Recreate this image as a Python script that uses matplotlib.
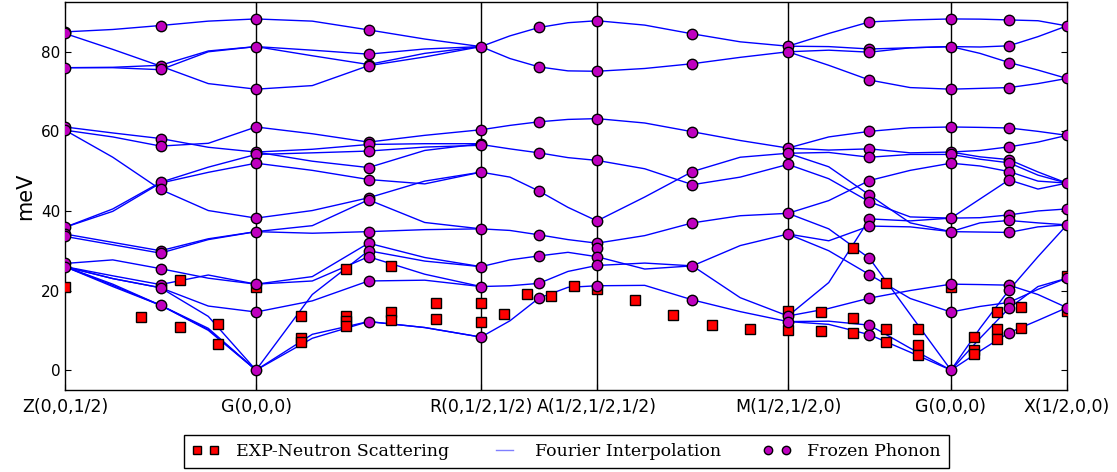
import numpy as np
import matplotlib
matplotlib.use("Agg")
import matplotlib.pyplot as plt
from matplotlib.lines import Line2D

# high-symmetry path (path length units)
k_labels = ["Z(0,0,1/2)", "G(0,0,0)", "R(0,1/2,1/2)", "A(1/2,1/2,1/2)",
            "M(1/2,1/2,0)", "G(0,0,0)", "X(1/2,0,0)"]
k_nodes = [0.0, 1.647, 3.586, 4.586, 6.233, 7.638, 8.638]

# Fourier interpolation bands (meV): one row per band,
# values read at 0, 1/4, 1/2, 3/4, 1 of each segment
band_frac = [0.0, 0.25, 0.5, 0.75, 1.0]
bands_ZG = [
    [85.0, 85.6, 86.6, 87.7, 88.25],
    [84.6, 80.6, 76.4, 72.0, 70.6],
    [76.0, 76.0, 75.5, 80.0, 81.3],
    [76.0, 76.1, 76.6, 80.2, 81.3],
    [61.1, 59.6, 58.2, 56.0, 54.8],
    [60.3, 58.6, 56.3, 57.0, 61.1],
    [60.3, 53.5, 45.4, 40.1, 38.2],
    [35.9, 40.5, 47.2, 51.0, 54.2],
    [35.9, 39.9, 47.0, 49.7, 52.0],
    [34.2, 32.1, 30.0, 33.0, 34.8],
    [33.6, 31.5, 29.4, 32.8, 34.8],
    [26.8, 27.7, 25.5, 23.1, 21.6],
    [26.0, 23.7, 21.5, 23.9, 21.6],
    [26.0, 23.0, 20.7, 16.1, 14.6],
    [26.0, 23.0, 20.7, 13.5, 0.0],
    [26.0, 21.6, 16.3, 10.5, 0.0],
    [26.0, 21.3, 16.3, 10.2, 0.0],
    [26.0, 21.0, 16.3, 10.0, 0.0],
]
bands_GR = [
    [88.25, 87.7, 85.5, 83.2, 81.3],
    [81.3, 80.4, 79.4, 80.7, 81.3],
    [81.3, 79.0, 76.8, 79.6, 81.3],
    [70.6, 71.5, 76.5, 78.7, 81.3],
    [61.1, 59.4, 57.3, 59.0, 60.4],
    [54.8, 55.5, 56.7, 56.9, 56.9],
    [54.2, 54.6, 55.05, 56.05, 56.5],
    [54.8, 52.5, 50.9, 55.2, 56.9],
    [52.0, 50.2, 47.9, 46.8, 49.75],
    [38.2, 40.1, 43.3, 47.5, 49.75],
    [34.8, 36.3, 42.8, 37.1, 35.5],
    [34.8, 34.4, 34.8, 35.3, 35.5],
    [21.6, 22.4, 28.5, 24.1, 21.0],
    [21.6, 23.5, 31.9, 28.3, 26.0],
    [14.6, 17.4, 22.4, 22.6, 21.0],
    [0.0, 19.0, 30.0, 27.4, 26.0],
    [0.0, 9.0, 12.2, 10.7, 8.3],
    [0.0, 8.0, 12.2, 10.7, 8.3],
]
bands_RA = [
    [81.3, 84.0, 86.1, 87.3, 87.8],
    [81.3, 78.3, 76.2, 75.2, 75.1],
    [60.4, 61.5, 62.4, 63.0, 63.2],
    [56.7, 55.6, 54.6, 53.4, 52.7],
    [49.75, 48.5, 45.0, 40.9, 37.5],
    [35.5, 35.1, 34.0, 32.8, 31.9],
    [26.0, 27.7, 28.7, 29.6, 28.5],
    [21.0, 21.2, 21.8, 24.8, 26.3],
    [8.3, 12.4, 18.1, 20.8, 21.2],
]
bands_AM = [
    [87.8, 86.7, 84.5, 82.5, 81.4],
    [75.1, 75.8, 77.0, 78.6, 80.0],
    [63.2, 62.1, 59.9, 57.7, 55.8],
    [52.7, 50.6, 46.6, 48.5, 51.7],
    [37.5, 43.5, 49.9, 53.5, 54.5],
    [31.9, 33.8, 37.0, 38.8, 39.4],
    [28.5, 25.4, 26.2, 31.3, 34.2],
    [26.3, 26.9, 26.2, 18.2, 13.6],
    [21.2, 21.3, 17.65, 14.7, 12.2],
]
bands_MG = [
    [81.4, 84.6, 87.5, 88.0, 88.25],
    [81.4, 81.3, 80.7, 81.0, 81.3],
    [80.0, 80.4, 79.9, 81.0, 81.3],
    [80.0, 76.6, 72.9, 71.0, 70.6],
    [55.8, 58.6, 60.0, 60.9, 61.1],
    [55.8, 55.3, 55.6, 54.6, 54.8],
    [54.5, 54.7, 53.5, 54.2, 54.2],
    [54.5, 51.1, 44.0, 37.0, 34.8],
    [51.7, 48.1, 42.3, 38.5, 38.2],
    [39.4, 42.6, 47.65, 50.2, 52.0],
    [39.4, 35.5, 28.1, 14.0, 0.0],
    [34.2, 32.5, 36.2, 36.0, 34.8],
    [34.2, 30.0, 24.0, 18.0, 14.6],
    [13.6, 22.0, 38.0, 37.5, 38.2],
    [13.6, 15.5, 18.1, 20.0, 21.6],
    [12.2, 11.5, 8.9, 4.5, 0.0],
    [12.2, 12.3, 11.3, 5.5, 0.0],
]
bands_GX = [
    [88.25, 88.2, 88.0, 87.8, 86.5],
    [81.3, 81.2, 81.5, 83.8, 86.5],
    [81.3, 79.6, 77.3, 75.4, 73.3],
    [70.6, 70.8, 71.0, 72.0, 73.3],
    [61.1, 61.0, 60.85, 60.0, 59.0],
    [54.8, 55.2, 56.1, 57.3, 59.0],
    [54.8, 53.6, 52.9, 49.8, 47.0],
    [54.2, 53.0, 52.1, 49.0, 47.0],
    [52.0, 51.3, 49.9, 47.5, 47.0],
    [38.2, 43.0, 47.8, 45.5, 47.0],
    [38.2, 38.3, 39.0, 40.0, 40.5],
    [34.8, 37.0, 37.6, 37.0, 36.5],
    [34.8, 34.7, 34.6, 36.0, 36.5],
    [21.6, 21.5, 21.35, 19.0, 15.7],
    [14.6, 16.0, 17.0, 20.3, 23.1],
    [0.0, 10.5, 20.1, 28.5, 36.5],
    [0.0, 8.0, 15.55, 21.0, 23.1],
    [0.0, 4.8, 9.4, 12.5, 15.7],
]
band_segments = [bands_ZG, bands_GR, bands_RA, bands_AM, bands_MG, bands_GX]

# frozen phonon results: (segment, fraction) and energies (meV)
fp_qpos = [(0, 0.0), (0, 0.5), (1, 0.0), (1, 0.5), (2, 0.0), (2, 0.5), (3, 0.0),
           (3, 0.5), (4, 0.0), (4, 0.5), (5, 0.0), (5, 0.5), (5, 1.0)]
fp_mev = [
    [85.0, 84.6, 76.0, 61.1, 60.3, 35.9, 34.2, 33.6, 26.8, 26.0],
    [86.6, 76.5, 75.6, 58.2, 56.3, 47.2, 45.4, 30.0, 29.4, 25.5, 21.5, 20.7, 16.3],
    [88.25, 81.2, 70.6, 61.1, 54.8, 54.2, 52.0, 38.2, 34.8, 21.6, 14.6, 0.0],
    [85.5, 79.4, 76.8, 76.5, 57.3, 56.7, 55.05, 50.9, 47.9, 43.3, 42.8, 34.8, 31.9, 30.0, 28.5, 22.4, 12.2],
    [81.3, 60.4, 56.9, 56.5, 49.75, 35.5, 26.0, 21.0, 8.3],
    [86.1, 76.2, 62.4, 54.6, 45.0, 34.0, 28.7, 21.8, 18.1],
    [87.8, 75.1, 63.2, 52.7, 37.5, 31.9, 30.7, 28.5, 26.3, 21.2],
    [84.5, 77.0, 59.9, 49.9, 46.6, 37.0, 26.2, 17.65],
    [81.4, 80.0, 55.8, 54.5, 51.7, 39.4, 34.2, 13.6, 12.2],
    [87.5, 80.7, 79.9, 72.9, 60.0, 55.6, 53.5, 47.65, 44.0, 42.3, 38.0, 36.2, 28.1, 24.0, 18.1, 11.3, 8.9],
    [88.25, 81.2, 70.6, 61.1, 54.8, 54.2, 52.0, 38.2, 34.8, 21.6, 14.6, 0.0],
    [88.0, 81.5, 77.3, 71.0, 60.85, 56.1, 52.9, 52.1, 49.9, 47.8, 39.0, 37.6, 34.6, 21.35, 20.1, 17.0, 15.55, 9.4],
    [86.5, 73.3, 59.0, 47.0, 40.5, 36.5, 23.1, 15.7],
]

# neutron scattering data
exp_seg = [0, 0, 0, 0, 0, 0, 0,
           1, 1, 1, 1, 1, 1, 1, 1, 1, 1, 1, 1, 1, 1,
           2, 2, 2, 2, 2,
           3, 3, 3, 3, 3, 3,
           4, 4, 4, 4, 4, 4, 4, 4, 4, 4, 4, 4,
           5, 5, 5, 5, 5, 5, 5, 5, 5, 5]
exp_frac = [0.0, 0.4, 0.6, 0.6, 0.8, 0.8, 1.0,
            0.2, 0.2, 0.2, 0.4, 0.4, 0.4, 0.4, 0.6, 0.6, 0.6, 0.8, 0.8, 1.0, 1.0,
            0.2, 0.4, 0.6, 0.8, 1.0,
            0.2, 0.4, 0.6, 0.8, 1.0, 1.0,
            0.2, 0.2, 0.4, 0.4, 0.4, 0.6, 0.6, 0.6, 0.8, 0.8, 0.8, 1.0,
            0.2, 0.2, 0.2, 0.4, 0.4, 0.4, 0.6, 0.6, 1.0, 1.0]
exp_mev = [20.9, 13.4, 22.7, 10.9, 11.6, 6.5, 20.9,
           13.5, 8.1, 7.1, 25.5, 13.6, 12.4, 11.1, 26.1, 14.7, 12.6, 16.9, 12.8, 16.9, 12.2,
           14.0, 19.1, 18.7, 21.2, 20.3,
           17.6, 13.9, 11.35, 10.4, 14.9, 10.0,
           14.6, 9.8, 30.6, 13.0, 9.25, 21.8, 10.4, 7.1, 10.3, 6.3, 3.8, 20.9,
           8.4, 5.0, 4.1, 14.7, 10.3, 7.8, 15.8, 10.7, 23.7, 14.9]


def seg_to_k(seg, frac):
    return k_nodes[seg] + np.asarray(frac) * (k_nodes[seg + 1] - k_nodes[seg])


fig = plt.figure(figsize=(11.17, 4.72), dpi=100)
ax = fig.add_axes([0.0582, 0.1737, 0.897, 0.822])

for i, seg in enumerate(band_segments):
    xs = seg_to_k(i, band_frac)
    for band in seg:
        ax.plot(xs, band, color='#0000ff', lw=1.0, zorder=2)

ex = [seg_to_k(s, f) for s, f in zip(exp_seg, exp_frac)]
ax.plot(ex, exp_mev, 's', color='red', mec='black', mew=1.0, ms=7, zorder=3)

for (s, f), vals in zip(fp_qpos, fp_mev):
    x = seg_to_k(s, f)
    ax.plot([x] * len(vals), vals, 'o', color='#bf00bf', mec='black', mew=1.0, ms=7.5, zorder=4)

for k in k_nodes[1:-1]:
    ax.axvline(k, color='black', lw=1.0, zorder=1)

ax.set_xlim(k_nodes[0], k_nodes[-1])
ax.set_ylim(-5, 92.5)
ax.set_xticks(k_nodes)
ax.set_xticklabels(k_labels, fontsize=12.5)
ax.set_yticks([0, 20, 40, 60, 80])
ax.tick_params(axis='y', direction='in', right=True, labelsize=11, length=4)
ax.tick_params(axis='x', direction='in', top=True, length=4, pad=6)
ax.set_ylabel('meV', fontsize=15, labelpad=4)
for sp in ax.spines.values():
    sp.set_linewidth(1.0)

handles = [
    Line2D([], [], ls='none', marker='s', color='red', mec='black', ms=6),
    Line2D([], [], color='b', lw=1.0, alpha=0.5),
    Line2D([], [], ls='none', marker='o', color='#bf00bf', mec='black', ms=6),
]
leg = fig.legend(handles, ['EXP-Neutron Scattering', 'Fourier Interpolation', 'Frozen Phonon'],
                 loc='center', bbox_to_anchor=(0.507, 0.0434), ncol=3, numpoints=2,
                 prop={'family': 'DejaVu Serif', 'size': 12.5}, fancybox=False,
                 edgecolor='black', framealpha=1, columnspacing=2.4, handlelength=1.6,
                 handletextpad=0.95, borderpad=0.45)
leg.get_frame().set_linewidth(1.0)

fig.savefig('out.png', dpi=100)
